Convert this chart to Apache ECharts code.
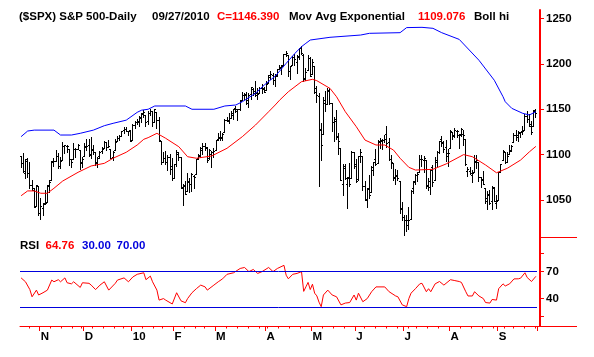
<!DOCTYPE html>
<html><head><meta charset="utf-8">
<script src="https://cdn.jsdelivr.net/npm/echarts@6/dist/echarts.min.js"></script>
<style>html,body{margin:0;padding:0;background:#fff}#c{width:594px;height:357px}</style>
</head><body><div id="c"></div>
<script>
// ---- trading calendar ----
const months = ['2009-10','2009-11','2009-12','2010-01','2010-02','2010-03','2010-04','2010-05','2010-06','2010-07','2010-08','2010-09'];
const monthDays = [
  [20,21,22,23,26,27,28,29,30],
  [2,3,4,5,6,9,10,11,12,13,16,17,18,19,20,23,24,25,27,30],
  [1,2,3,4,7,8,9,10,11,14,15,16,17,18,21,22,23,24,28,29,30,31],
  [4,5,6,7,8,11,12,13,14,15,19,20,21,22,25,26,27,28,29],
  [1,2,3,4,5,8,9,10,11,12,16,17,18,19,22,23,24,25,26],
  [1,2,3,4,5,8,9,10,11,12,15,16,17,18,19,22,23,24,25,26,29,30,31],
  [1,5,6,7,8,9,12,13,14,15,16,19,20,21,22,23,26,27,28,29,30],
  [3,4,5,6,7,10,11,12,13,14,17,18,19,20,21,24,25,26,27,28],
  [1,2,3,4,7,8,9,10,11,14,15,16,17,18,21,22,23,24,25,28,29,30],
  [1,2,6,7,8,9,12,13,14,15,16,19,20,21,22,23,26,27,28,29,30],
  [2,3,4,5,6,9,10,11,12,13,16,17,18,19,20,23,24,25,26,27,30,31],
  [1,2,3,7,8,9,10,13,14,15,16,17,20,21,22,23,24,27]
];
const monthLabels = ['N','D','10','F','M','A','M','J','J','A','S'];

// ---- OHLC ----
const open = [
 1098.0,1091.0,1080.0,1095.0,1080.0,1067.0,1061.0,1043.0,1065.0,
 1036.2,1040.9,1047.0,1047.3,1064.9,1072.3,1092.4,1093.3,1098.3,1087.6,1094.1,1109.2,1109.4,1106.4,1094.7,1094.9,1105.8,1106.5,1105.5,1091.1,
 1098.9,1109.0,1110.6,1100.4,1105.5,1103.0,1091.1,1099.0,1103.9,1107.8,1114.1,1108.6,1106.4,1097.9,1105.3,1114.5,1118.8,1121.0,1127.5,1128.6,1125.5,1126.6,
 1116.6,1132.7,1135.7,1136.3,1140.5,1146.0,1143.8,1137.3,1145.7,1147.7,1136.0,1147.5,1138.7,1115.5,1092.4,1095.8,1091.9,1096.9,1087.6,
 1073.9,1090.0,1100.7,1097.3,1064.1,1065.5,1060.1,1069.7,1067.1,1076.0,1079.1,1096.1,1099.0,1105.5,1110.0,1107.5,1095.9,1101.2,1103.1,
 1105.4,1117.0,1119.4,1119.1,1125.1,1138.4,1137.6,1140.2,1144.0,1151.7,1148.5,1150.8,1159.9,1166.1,1166.7,1157.3,1166.5,1172.7,1170.0,1167.6,1167.7,1173.8,1171.8,
 1171.2,1178.7,1186.0,1188.2,1181.8,1187.5,1194.9,1195.9,1198.7,1210.8,1210.2,1192.1,1199.0,1207.2,1202.5,1207.9,1217.1,1209.9,1184.6,1193.3,1206.8,
 1188.6,1197.5,1169.2,1164.4,1127.0,1122.3,1156.4,1155.4,1170.0,1157.2,1136.5,1138.8,1119.6,1107.3,1067.3,1084.8,1067.4,1075.5,1074.3,1102.6,
 1087.3,1073.0,1098.8,1098.4,1065.8,1050.8,1062.8,1058.8,1082.7,1095.0,1091.2,1114.0,1116.0,1116.2,1122.8,1113.9,1095.6,1090.9,1075.1,1077.5,1071.1,1040.6,
 1031.1,1027.7,1028.1,1028.5,1062.9,1070.5,1077.2,1080.7,1095.6,1094.5,1093.9,1066.9,1064.5,1086.7,1072.1,1092.2,1102.9,1117.4,1112.8,1108.1,1098.4,
 1107.5,1125.3,1121.1,1125.8,1122.1,1122.8,1122.9,1116.9,1081.5,1082.2,1077.5,1081.2,1092.1,1092.4,1075.6,1073.4,1063.2,1049.0,1056.3,1049.3,1062.9,1046.9,
 1049.7,1080.7,1093.6,1102.6,1092.4,1101.2,1104.6,1113.4,1121.2,1119.4,1123.9,1126.4,1126.6,1142.8,1139.5,1131.1,1131.7,1148.6
];
const high = [
 1098.6,1101.4,1095.2,1095.8,1091.8,1072.5,1063.3,1066.8,1065.4,
 1052.2,1046.4,1061.0,1066.7,1071.5,1093.2,1096.1,1105.4,1101.4,1097.6,1113.7,1110.8,1111.1,1106.4,1094.7,1112.4,1107.6,1111.2,1105.5,1097.2,
 1112.3,1117.7,1117.3,1119.1,1110.7,1103.0,1097.0,1104.3,1108.5,1114.8,1114.1,1116.2,1106.4,1103.7,1117.7,1120.3,1121.6,1126.5,1130.4,1130.4,1126.4,1127.6,
 1133.9,1136.6,1139.2,1142.5,1145.4,1149.7,1143.8,1148.4,1150.4,1147.8,1150.5,1147.5,1141.6,1115.5,1102.6,1103.7,1099.5,1100.2,1096.5,
 1089.4,1104.7,1102.7,1097.3,1067.1,1071.2,1079.3,1073.7,1080.0,1077.8,1095.7,1101.0,1108.2,1112.4,1112.3,1108.6,1106.4,1103.5,1107.2,
 1116.1,1123.5,1125.6,1123.7,1139.4,1141.1,1145.4,1148.3,1150.2,1153.4,1150.0,1160.3,1169.2,1167.8,1169.2,1167.8,1174.7,1173.0,1180.7,1173.9,1174.9,1177.8,1174.6,
 1181.4,1187.7,1191.8,1189.6,1188.6,1194.7,1199.2,1199.0,1210.7,1213.9,1210.2,1197.9,1208.6,1211.0,1210.3,1217.3,1219.8,1211.4,1195.0,1209.4,1208.0,
 1205.1,1197.5,1176.0,1167.6,1135.1,1163.9,1170.5,1172.9,1173.6,1157.2,1141.9,1148.7,1124.3,1107.3,1090.2,1090.0,1074.8,1090.8,1103.5,1102.6,
 1094.8,1098.6,1105.7,1098.4,1071.4,1063.2,1077.7,1087.9,1092.3,1105.9,1115.6,1118.7,1117.7,1121.1,1131.2,1118.5,1099.6,1090.9,1083.6,1082.6,1071.1,1048.1,
 1033.6,1033.0,1042.5,1060.9,1071.3,1078.2,1080.8,1099.5,1099.1,1098.7,1093.9,1074.7,1083.9,1089.0,1097.5,1103.7,1115.0,1121.0,1114.7,1115.9,1106.4,
 1127.3,1125.4,1128.8,1126.6,1123.1,1129.2,1127.2,1116.9,1086.7,1086.3,1082.6,1100.1,1099.8,1092.4,1075.6,1081.6,1063.2,1059.4,1061.5,1065.2,1064.4,1055.1,
 1081.3,1090.1,1105.1,1102.6,1103.3,1110.3,1110.9,1123.9,1127.4,1126.5,1125.4,1131.5,1144.9,1148.6,1144.4,1136.8,1148.9,1149.9
];
const low = [
 1086.0,1081.0,1074.3,1075.5,1063.4,1060.6,1042.2,1043.0,1033.4,
 1029.4,1033.9,1045.2,1047.3,1059.3,1072.3,1087.8,1093.3,1085.8,1085.3,1094.1,1102.2,1102.7,1088.4,1086.8,1094.9,1097.6,1106.5,1083.7,1086.2,
 1098.9,1105.1,1098.7,1096.5,1100.8,1088.6,1085.9,1096.0,1101.3,1107.8,1105.4,1107.9,1095.9,1093.9,1105.3,1114.5,1116.0,1121.0,1123.5,1126.0,1121.9,1114.8,
 1116.6,1129.7,1133.9,1131.3,1136.2,1142.0,1131.8,1133.2,1143.8,1131.4,1135.8,1129.3,1114.8,1090.2,1092.4,1089.9,1083.1,1078.5,1071.6,
 1073.9,1088.0,1094.0,1062.8,1044.5,1056.5,1060.1,1059.3,1060.1,1063.0,1079.1,1094.7,1097.5,1100.8,1105.4,1092.2,1095.5,1086.0,1097.6,
 1105.4,1116.5,1116.6,1116.1,1125.1,1136.8,1134.9,1140.1,1139.0,1147.0,1138.5,1148.7,1159.9,1161.2,1155.3,1152.9,1161.5,1166.0,1165.1,1161.5,1167.7,1168.0,1168.9,
 1170.7,1178.7,1182.8,1177.3,1175.1,1187.2,1194.7,1188.8,1198.7,1208.5,1186.8,1183.7,1199.0,1198.9,1190.2,1205.1,1211.1,1181.6,1181.8,1193.3,1186.3,
 1188.6,1168.1,1158.2,1065.8,1094.2,1122.3,1147.7,1155.4,1156.1,1126.1,1115.0,1117.2,1100.7,1071.6,1055.9,1072.7,1040.8,1065.6,1074.3,1084.8,
 1069.9,1072.0,1091.8,1060.5,1049.9,1042.2,1052.3,1058.8,1077.1,1089.0,1091.2,1107.1,1105.9,1113.9,1108.2,1094.2,1085.3,1071.6,1067.9,1071.5,1035.2,1028.3,
 1010.9,1015.9,1018.4,1028.5,1058.2,1068.1,1070.5,1080.7,1087.7,1080.5,1063.3,1061.1,1056.9,1065.3,1072.1,1087.9,1101.3,1109.8,1103.1,1092.8,1088.0,
 1107.5,1116.8,1119.5,1118.9,1107.2,1120.9,1111.0,1088.6,1076.7,1079.0,1069.5,1081.2,1085.8,1070.7,1063.9,1067.1,1046.7,1039.8,1045.4,1039.7,1048.8,1040.9,
 1049.7,1080.4,1093.6,1091.2,1092.4,1101.2,1103.9,1113.4,1115.6,1114.6,1118.9,1122.4,1126.6,1136.2,1131.6,1122.8,1131.7,1142.0
];
const close = [
 1091.1,1081.4,1092.9,1079.6,1067.0,1063.4,1042.6,1066.1,1036.2,
 1042.9,1045.4,1046.5,1066.6,1069.3,1093.1,1093.0,1098.5,1087.2,1093.5,1109.3,1110.3,1109.8,1094.9,1091.4,1106.2,1105.7,1110.6,1091.5,1095.6,
 1108.9,1109.2,1099.9,1106.0,1103.3,1091.9,1096.0,1102.4,1106.4,1114.1,1107.9,1109.2,1096.1,1102.5,1114.1,1118.0,1120.6,1126.5,1127.8,1126.2,1126.4,1115.1,
 1133.0,1136.5,1137.1,1141.7,1145.0,1147.0,1136.2,1145.7,1148.5,1136.0,1150.2,1138.0,1116.5,1091.8,1096.8,1092.2,1097.5,1084.5,1073.9,
 1089.2,1103.3,1097.3,1063.1,1066.2,1056.7,1070.5,1068.1,1078.5,1075.5,1094.9,1099.5,1106.8,1109.2,1108.0,1094.6,1105.2,1102.9,1104.5,
 1115.7,1118.3,1118.8,1123.0,1138.7,1138.5,1140.5,1145.6,1150.2,1150.0,1150.5,1159.5,1166.2,1165.8,1159.9,1165.8,1174.2,1167.7,1165.7,1166.6,1173.2,1173.3,1169.4,
 1178.1,1187.4,1189.4,1182.5,1186.4,1194.4,1196.5,1197.3,1210.7,1211.7,1192.1,1197.5,1207.2,1205.9,1208.7,1217.3,1212.1,1183.7,1191.4,1206.8,1186.7,
 1202.3,1173.6,1165.9,1128.2,1110.9,1159.7,1155.8,1171.7,1157.4,1135.7,1136.9,1120.8,1115.1,1071.6,1087.7,1073.7,1074.0,1068.0,1103.1,1089.4,
 1070.7,1098.4,1102.8,1064.9,1050.5,1062.0,1055.7,1086.8,1091.6,1089.6,1115.2,1114.6,1116.0,1117.5,1113.2,1095.3,1092.0,1073.7,1076.8,1074.6,1041.2,1030.7,
 1027.4,1022.6,1028.1,1060.3,1070.3,1078.0,1078.8,1095.3,1095.2,1096.5,1064.9,1071.3,1083.5,1069.6,1093.7,1102.7,1115.0,1113.8,1106.1,1101.5,1101.6,
 1125.9,1120.5,1127.2,1125.8,1121.6,1127.8,1121.1,1089.5,1083.6,1079.3,1079.4,1092.5,1094.2,1075.6,1071.7,1067.4,1051.9,1055.3,1047.2,1064.6,1048.9,1049.3,
 1080.3,1090.1,1104.5,1091.8,1098.9,1104.2,1109.6,1121.9,1121.1,1125.1,1124.7,1125.6,1142.7,1139.8,1134.3,1124.8,1148.7,1146.4
];

// ---- overlays: [barIndex, value] ----
const emaPts = [[0,1054.7],[3,1060],[6,1060],[9,1057.4],[12,1057.4],[15,1062.9],[19,1070.9],[26,1080.5],[32,1087.5],[38,1090.4],[42,1096],[48,1102.6],[53,1110.6],[56,1116.9],[58,1118.7],[62,1123.5],[66,1118],[72,1108.7],[76,1097.7],[80,1096],[87,1098.5],[94,1107],[101,1119.8],[107,1132.6],[113,1147.3],[116,1154.7],[118,1160],[122,1169.3],[128,1180.4],[133,1183],[135,1181.5],[141,1173],[144,1163.8],[148,1147.3],[153,1130.8],[157,1116],[162,1110.6],[166,1110.6],[170,1105],[173,1096],[177,1086],[180,1083],[188,1083.8],[194,1089.7],[202,1100],[206,1097.7],[212,1088.6],[217,1080],[222,1085],[228,1094],[232,1103],[235,1109.1]];
const bollHiPts = [[0,1119.8],[3,1126],[6,1127],[15,1127],[18,1121.6],[23,1121.6],[27,1123.5],[33,1127],[38,1131.9],[42,1134.5],[48,1138],[53,1146.6],[55,1149],[58,1150],[61,1153.6],[75,1153.6],[78,1150],[88,1150],[93,1153.6],[98,1154.7],[101,1158.3],[107,1167.6],[111,1176.7],[116,1186.5],[118,1192],[121,1200.6],[125,1211.6],[128,1219],[130,1222.7],[132,1226.3],[141,1229.3],[155,1231.8],[159,1233.7],[173,1234.4],[176,1240],[183,1240.3],[188,1239.2],[192,1234.4],[200,1227],[209,1204],[216,1182],[220,1163.8],[221,1158.3],[224,1151],[229,1145.5],[232,1143.7],[235,1147.3]];
const rsiPts = [[0,63],[2,58.7],[4,50],[5,42],[7,49.4],[8,44],[10,46.5],[12,49.4],[14,60.6],[15,58.7],[17,61],[18,58.7],[20,63],[21,57.6],[23,56.4],[24,58.7],[27,52.4],[28,57.6],[31,57],[32,55],[34,50],[36,55],[38,58.7],[40,49.4],[43,57],[44,60.6],[47,63],[49,58.7],[51,64],[53,67],[56,68.7],[57,61],[59,65],[60,58.7],[62,49.4],[63,38.3],[65,40],[66,38.3],[69,34],[71,46.5],[73,37.5],[75,35.4],[76,40],[78,46.5],[80,51],[82,55],[84,53],[85,49.4],[88,55],[90,58.7],[92,62],[94,67],[97,68.7],[100,73.5],[102,74.6],[104,70],[106,72.4],[108,68],[110,70],[113,74.6],[115,70],[117,73.5],[120,77],[121,66],[122,62],[124,67],[126,68],[128,70],[129,48],[130,53],[131,58],[132,50],[133,56],[134,46],[135,43],[136,36],[137,31],[138,44],[140,49.4],[142,44],[144,42],[146,33],[148,35],[150,35.6],[152,44],[153,38.3],[154,46],[156,36.5],[158,40],[160,47.6],[162,53],[166,53],[168,47.6],[171,42.9],[172,42],[174,33],[176,31],[177,40],[178,46],[180,51],[182,56.4],[183,57],[185,47.6],[186,51],[187,47.6],[189,56.4],[191,59],[193,55],[196,61],[198,60],[200,59],[201,58],[203,47.6],[204,42.9],[206,42.9],[207,47.6],[209,42.9],[211,40],[212,35.6],[214,35],[215,39],[217,38.3],[218,51],[220,56.4],[221,54],[223,56.4],[225,61.9],[227,62],[228,62.7],[230,68.7],[231,63.5],[233,59],[235,64.76]];

const priceTicks = [1050,1100,1150,1200,1250];
const rsiLabelTicks = [40,70];
const rsiTicks = [20,40,70,90];
const rsiBands = [30,70];

// ---- derived ----
const dates = [];
months.forEach((m,k)=>monthDays[k].forEach(d=>dates.push(m+'-'+String(d).padStart(2,'0'))));
const dow = dates.map(d=>new Date(d+'T12:00:00Z').getUTCDay());
const isMonthStart = dates.map((d,i)=> i>0 && d.slice(0,7)!==dates[i-1].slice(0,7));
const isWeekStart = dates.map((d,i)=> i>0 && dow[i] <= dow[i-1]);
const labelOf = {}; let mi = 0;
dates.forEach((d,i)=>{ if(isMonthStart[i]) labelOf[d] = monthLabels[mi++]; });
const ohlc = dates.map((d,i)=>[i, open[i], high[i], low[i], close[i]]);

const FONT = '"Liberation Sans", Arial, sans-serif';
const RED = '#ff0000';

function renderOHLC(params, api){
  const i = api.value(0);
  const x = Math.round(api.coord([i, api.value(4)])[0] - 0.5);
  const yO = Math.round(api.coord([i, api.value(1)])[1]);
  const yH = Math.round(api.coord([i, api.value(2)])[1]);
  const yL = Math.round(api.coord([i, api.value(3)])[1]);
  const yC = Math.round(api.coord([i, api.value(4)])[1]);
  const st = {fill:'#000'};
  return {type:'group', children:[
    {type:'rect', shape:{x:x, y:yH, width:1, height:Math.max(1, yL - yH + 1)}, style:st},
    {type:'rect', shape:{x:x-1, y:yO, width:1, height:1}, style:st},
    {type:'rect', shape:{x:x+1, y:yC, width:1, height:1}, style:st}
  ]};
}

const chart = echarts.init(document.getElementById('c'), null, {renderer:'canvas'});
chart.setOption({
  animation:false,
  backgroundColor:'#fff',
  grid:[
    {left:20, top:10, width:517, height:227},
    {left:20, top:237, width:517, height:89}
  ],
  xAxis:[
    {type:'category', gridIndex:0, data:dates, boundaryGap:true, show:false},
    {type:'category', gridIndex:1, data:dates, boundaryGap:true, position:'bottom', offset:0,
     axisLine:{show:true, lineStyle:{color:RED, width:1}},
     axisTick:{show:true, length:5, inside:false, lineStyle:{color:RED, width:1},
               interval:(idx)=>isMonthStart[idx]},
     axisLabel:{show:true, interval:(idx)=>isMonthStart[idx], formatter:(v)=>labelOf[v]||'',
                align:'left', margin:5, color:'#000', fontFamily:FONT, fontWeight:'bold', fontSize:11.5},
     splitLine:{show:false}},
    {type:'category', gridIndex:1, data:dates, boundaryGap:true, position:'bottom', offset:0,
     axisLine:{show:false},
     axisTick:{show:true, length:2.5, lineStyle:{color:RED, width:1},
               interval:(idx)=>isWeekStart[idx] && !isMonthStart[idx]},
     axisLabel:{show:false}, splitLine:{show:false}}
  ],
  yAxis:[
    {type:'value', gridIndex:0, position:'right', offset:3, min:1009.2, max:1259.4, scale:true,
     axisLine:{show:true, lineStyle:{color:RED, width:2}},
     axisTick:{show:true, length:4, lineStyle:{color:RED, width:1}, customValues:priceTicks},
     axisLabel:{show:true, margin:6, color:'#000', fontFamily:FONT, fontWeight:'bold', fontSize:11.5,
                customValues:priceTicks, formatter:(v)=>String(Math.round(v))},
     splitLine:{show:false}},
    {type:'value', gridIndex:1, position:'right', offset:3, min:9.5, max:108.5,
     axisLine:{show:true, lineStyle:{color:RED, width:2}},
     axisTick:{show:true, length:4, lineStyle:{color:RED, width:1}, customValues:rsiTicks},
     axisLabel:{show:true, margin:6, color:'#000', fontFamily:FONT, fontWeight:'bold', fontSize:11.5,
                customValues:rsiLabelTicks, formatter:(v)=>String(Math.round(v))},
     splitLine:{show:false}}
  ],
  series:[
    {type:'custom', xAxisIndex:0, yAxisIndex:0, data:ohlc, renderItem:renderOHLC,
     encode:{x:0, y:[1,2,3,4]}, clip:true, silent:true},
    {type:'line', xAxisIndex:0, yAxisIndex:0, data:emaPts, symbol:'none', silent:true,
     lineStyle:{color:RED, width:1}},
    {type:'line', xAxisIndex:0, yAxisIndex:0, data:bollHiPts, symbol:'none', silent:true,
     lineStyle:{color:'#0000ff', width:1}},
    {type:'line', xAxisIndex:1, yAxisIndex:1, data:rsiPts, symbol:'none', silent:true,
     lineStyle:{color:RED, width:1},
     markLine:{silent:true, symbol:['none','none'], label:{show:false},
       lineStyle:{color:'#0000dd', width:1, type:'solid'},
       data:rsiBands.map(v=>({yAxis:v}))}}
  ],
  graphic:[
    {type:'line', shape:{x1:540, y1:237.5, x2:577, y2:237.5}, style:{stroke:RED, lineWidth:1}},
    {type:'line', shape:{x1:537, y1:326.5, x2:577, y2:326.5}, style:{stroke:RED, lineWidth:1}},
    {type:'text', x:19, y:16.5, style:{text:'($SPX) S&P 500-Daily', fill:'#000', font:'bold 11.5px '+FONT, verticalAlign:'middle'}},
    {type:'text', x:152, y:16.5, style:{text:'09/27/2010', fill:'#000', font:'bold 11.5px '+FONT, verticalAlign:'middle'}},
    {type:'text', x:217, y:16.5, style:{text:'C=1146.390', fill:RED, font:'bold 11.5px '+FONT, verticalAlign:'middle'}},
    {type:'text', x:289, y:16.5, style:{text:'Mov Avg Exponential', fill:'#000', font:'bold 11.5px '+FONT, verticalAlign:'middle'}},
    {type:'text', x:418, y:16.5, style:{text:'1109.076', fill:RED, font:'bold 11.5px '+FONT, verticalAlign:'middle'}},
    {type:'text', x:474, y:16.5, style:{text:'Boll hi', fill:'#000', font:'bold 11.5px '+FONT, verticalAlign:'middle'}},
    {type:'text', x:20, y:245.7, style:{text:'RSI', fill:'#000', font:'bold 11.5px '+FONT, verticalAlign:'middle'}},
    {type:'text', x:45.5, y:245.7, style:{text:'64.76', fill:RED, font:'bold 11.5px '+FONT, verticalAlign:'middle'}},
    {type:'text', x:82, y:245.7, style:{text:'30.00', fill:'#0000dd', font:'bold 11.5px '+FONT, verticalAlign:'middle'}},
    {type:'text', x:116.5, y:245.7, style:{text:'70.00', fill:'#0000dd', font:'bold 11.5px '+FONT, verticalAlign:'middle'}}
  ]
});
</script>
</body></html>
